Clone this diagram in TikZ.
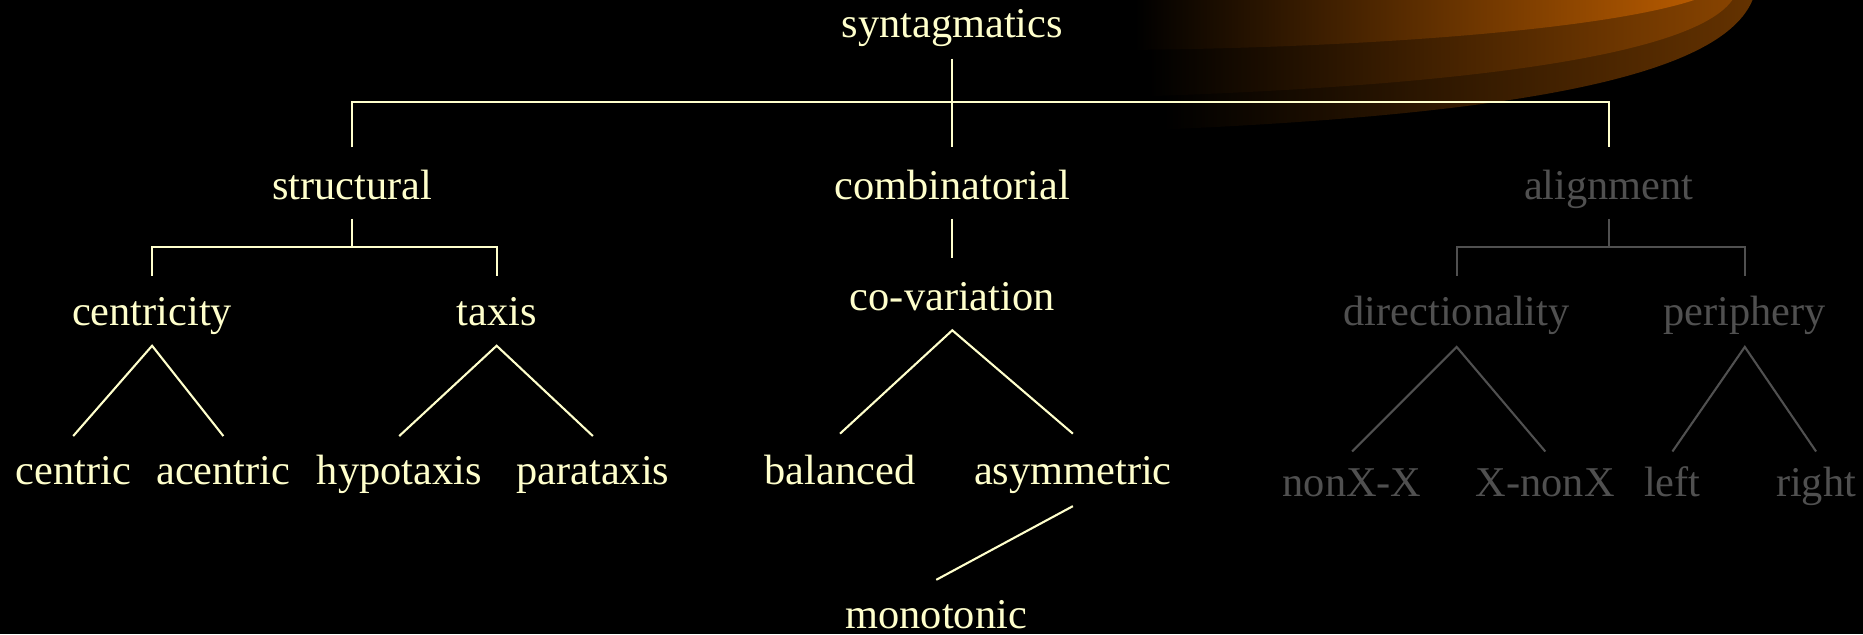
\documentclass[tikz,border=0pt]{standalone}
\usepackage{fontspec}
\setmainfont{Liberation Serif}
\usepackage{xcolor}
\definecolor{treeCream}{RGB}{255, 255, 204}
\definecolor{treeGrey}{RGB}{80, 80, 80}
\definecolor{swooshTop}{RGB}{182, 90, 0}
\definecolor{swooshMid}{RGB}{135, 67, 0}
\definecolor{swooshLow}{RGB}{100, 50, 0}
\usepackage{tikz}
\usetikzlibrary{calc}

\begin{document}
\begin{tikzpicture}[
    x=0.02cm, y=-0.02cm,
    treeNode/.style={
        anchor=base, inner sep=0pt, text=treeCream,
        font=\fontsize{20.3pt}{24pt}\selectfont
    },
    greyNode/.style={
        treeNode, text=treeGrey
    },
    treeLine/.style={
        draw=treeCream, line width=1pt
    },
    greyLine/.style={
        draw=treeGrey, line width=1pt
    }
]

    % Background and swoosh
    \useasboundingbox (0,0) rectangle (1568,534);
    \fill[black] (0,0) rectangle (1568,534);
    \shade[left color=black, right color=swooshLow]
        (979,0) -- (979,109) .. controls (1300,95) and (1450,60) .. (1475,0) -- cycle;
    \shade[left color=black, right color=swooshMid]
        (967,0) -- (967,81) .. controls (1280,70) and (1430,40) .. (1458,0) -- cycle;
    \shade[left color=black, right color=swooshTop]
        (955,0) -- (955,42) .. controls (1150,40) and (1350,25) .. (1426,0) -- cycle;

    % Nodes Layout
    \node[treeNode] (syn) at (801.5, 31.4) {syntagmatics};

    \node[treeNode] (struct) at (296.4, 168) {structural};
    \node[treeNode] (comb) at (801.5, 168) {combinatorial};
    \node[greyNode] (align) at (1354, 168) {alignment};

    \node[treeNode] (centr) at (128, 274) {centricity};
    \node[treeNode] (taxis) at (418, 274) {taxis};
    \node[treeNode] (covar) at (801.5, 261) {co-variation};
    \node[greyNode] (dir) at (1226, 274) {directionality};
    \node[greyNode] (peri) at (1468.5, 274) {periphery};

    \node[treeNode] (centric) at (61.6, 408) {centric};
    \node[treeNode] (acentric) at (188, 408) {acentric};
    \node[treeNode] (hypo) at (336, 408) {hypotaxis};
    \node[treeNode] (para) at (499, 408) {parataxis};
    \node[treeNode] (bal) at (707, 408) {balanced};
    \node[treeNode] (asym) at (903, 408) {asymmetric};
    \node[greyNode] (nonxx) at (1138, 418) {nonX-X};
    \node[greyNode] (xnonx) at (1300.6, 418) {X-nonX};
    \node[greyNode] (lft) at (1407.6, 418) {left};
    \node[greyNode] (rgt) at (1528.5, 418) {right};

    \node[treeNode] (mono) at (788, 529) {monotonic};

    % Connectors
    \draw[treeLine] ($(syn.base)+(0,18)$) -- ($(comb.base)+(0,-44)$);
    \draw[treeLine] ($(struct.base)+(0,-44)$) -- ++(0,-38) -| ($(align.base)+(0,-44)$);

    \draw[treeLine] ($(struct.base)+(0,16)$) -- ++(0,24);
    \draw[treeLine] ($(centr.base)+(0,-42)$) -- ++(0,-24) -| ($(taxis.base)+(0,-42)$);
    \draw[treeLine] ($(comb.base)+(0,16)$) -- ($(covar.base)+(0,-44)$);

    \draw[treeLine] ($(centric.base)+(0,-41)$) -- ($(centr.base)+(0,17)$) -- ($(acentric.base)+(0,-41)$);
    \draw[treeLine] ($(hypo.base)+(0,-41)$) -- ($(taxis.base)+(0,17)$) -- ($(para.base)+(0,-41)$);
    \draw[treeLine] ($(bal.base)+(0,-43)$) -- ($(covar.base)+(0,17)$) -- ($(asym.base)+(0,-43)$);
    \draw[treeLine] ($(asym.base)+(0,18)$) -- ($(mono.base)+(0,-41)$);

    \draw[greyLine] ($(align.base)+(0,16)$) -- ++(0,24);
    \draw[greyLine] ($(dir.base)+(0,-42)$) -- ++(0,-24) -| ($(peri.base)+(0,-42)$);
    \draw[greyLine] ($(nonxx.base)+(0,-38)$) -- ($(dir.base)+(0,18)$) -- ($(xnonx.base)+(0,-38)$);
    \draw[greyLine] ($(lft.base)+(0,-38)$) -- ($(peri.base)+(0,18)$) -- ($(rgt.base)+(0,-38)$);

\end{tikzpicture}
\end{document}
